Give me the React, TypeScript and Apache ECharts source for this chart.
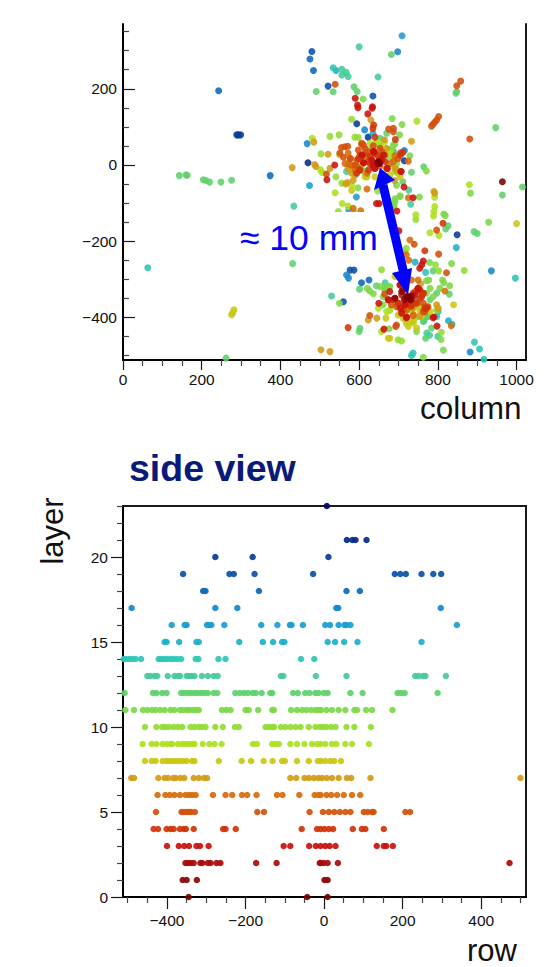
import React, { useEffect, useRef } from "react";
import * as echarts from "echarts";

const layerColors = ["#7a0000","#8c0404","#a80a0a","#c8120c","#cf3408","#d2500c","#d66c0c","#d19c14","#c9c714","#aee01e","#92dc32","#7cd848","#5ed06c","#45c99a","#2cc5b5","#1cb0c8","#1a9dd0","#1488cc","#0d68b8","#0a50a8","#083a98","#062888","#041a78","#00005f"];

// side view: row values per layer
const side0 = [-345,-43,9];
const side1 = [-360,-350,-324,1,9];
const side2 = [-353,-347,-340,-332,-315,-310,-296,-289,-274,-264,-173,-121,-11,-9,-1,9,35,472];
const side3 = [-400,-370,-356,-344,-325,-316,-294,-103,-86,-38,-21,-9,3,14,29,134,152,158,175];
const side4 = [-434,-423,-401,-391,-383,-367,-357,-352,-332,-257,-251,-225,-57,-18,-9,1,12,23,73,96,105,152];
const side5 = [-428,-363,-357,-350,-344,-339,-329,-170,-153,-37,-3,12,26,40,54,67,101,111,122,126,207,219];
const side6 = [-424,-404,-393,-381,-367,-353,-344,-336,-327,-283,-251,-234,-209,-196,-172,-120,-106,-63,-24,-14,-9,6,18,33,50,71,92];
const side7 = [-491,-484,-422,-406,-397,-384,-378,-366,-356,-332,-319,-306,-298,-86,-71,-50,-39,-26,-14,-5,7,20,37,58,69,118,500];
const side8 = [-456,-439,-429,-411,-401,-393,-384,-376,-367,-359,-350,-336,-330,-268,-210,-186,-154,-131,-107,-100,-69,-39,-16,-8,3,16,26,43];
const side9 = [-462,-439,-427,-411,-400,-391,-387,-372,-361,-353,-344,-336,-330,-309,-292,-279,-261,-181,-171,-132,-124,-115,-86,-69,-50,-31,-18,-9,3,20,31,54,71,114];
const side10 = [-456,-427,-412,-404,-395,-383,-372,-361,-340,-330,-319,-311,-302,-277,-258,-227,-217,-149,-141,-132,-127,-110,-99,-86,-73,-60,-39,-22,-11,-3,6,18,29,57,77,119];
const side11 = [-506,-484,-461,-450,-438,-429,-417,-406,-391,-381,-367,-359,-350,-342,-333,-325,-319,-260,-249,-238,-200,-192,-168,-132,-128,-84,-69,-56,-45,-33,-22,-14,-8,6,20,37,54,77,84,107,122,174];
const side12 = [-508,-436,-427,-412,-401,-364,-356,-347,-339,-330,-322,-313,-305,-296,-281,-272,-226,-215,-204,-194,-182,-174,-159,-137,-132,-79,-67,-48,-37,-22,-14,-1,9,67,98,187,196,205,289];
const side13 = [-450,-442,-432,-425,-398,-381,-372,-367,-350,-344,-337,-330,-311,-296,-281,-271,-110,-104,-21,57,232,241,252,258,310];
const side14 = [-510,-506,-497,-489,-480,-466,-421,-415,-408,-400,-391,-383,-374,-364,-327,-320,-269,-251,-59,-25];
const side15 = [-406,-401,-369,-325,-319,-216,-156,-130,-107,-101,9,28,51,85,248];
const side16 = [-388,-355,-350,-298,-293,-287,-254,-160,-119,-87,-83,-54,3,15,37,52,57,67,338];
const side17 = [-490,-277,-221,31,36,297];
const side18 = [-308,-302,-166,57,91];
const side19 = [-359,-241,-230,-177,-28,180,194,208,248,278,298];
const side20 = [-277,-182,11];
const side21 = [58,72,80,108];
const side22: number[] = [];
const side23 = [7];
const sideLayers = [side0,side1,side2,side3,side4,side5,side6,side7,side8,side9,side10,side11,side12,side13,side14,side15,side16,side17,side18,side19,side20,side21,side22,side23];

// top view: [column, row] per layer
const top0 = [[964,-44],[725,-347],[649,6],[725,-347]];
const top1 = [[647,6],[649,4],[719,-350],[729,-354],[708,-332],[733,-344],[649,9],[652,4],[721,-345],[729,-350],[715,-354],[732,-354],[691,-350]];
const top2: number[][] = [];
const top3 = [[590,175],[596,157],[597,150],[634,153],[633,149],[622,134],[538,0],[518,-39],[714,-58],[737,-86],[638,35],[611,6],[640,-9],[649,9],[644,0],[636,-4],[644,-101],[651,-101],[696,-121],[701,-173],[763,-252],[759,-262],[754,-271],[798,-423],[663,-431],[704,-315],[712,-328],[691,-350],[678,-332],[674,-354],[650,-363],[750,-324],[720,-401],[788,-401],[708,-389],[705,-376],[636,0],[632,13],[657,13],[662,26],[608,26],[611,6],[636,35],[672,-9],[707,-17],[708,-341],[742,-341],[717,-367],[704,-315],[674,-354],[749,-325],[721,-399],[790,-399]];
const top4 = [[637,105],[635,96],[640,73],[692,67],[706,-17],[602,26],[598,17],[606,22],[627,4],[636,6],[653,17],[670,-9],[594,-22],[602,-13],[813,-153],[767,-225],[572,-427],[759,-346],[763,-337],[737,-337],[754,-328],[699,-363],[716,-367],[729,-367],[771,-376],[624,9],[628,22],[645,26],[666,9],[640,-9],[624,-13],[602,-13],[705,26],[711,33],[733,-371],[755,-350],[763,-337],[767,-376],[700,-363],[687,-354],[746,-363]];
const top5 = [[858,220],[848,208],[802,127],[797,118],[792,112],[788,107],[784,102],[881,68],[675,94],[687,96],[687,87],[539,212],[517,-24],[555,46],[564,48],[571,49],[560,20],[551,31],[606,55],[615,44],[623,35],[640,31],[657,35],[665,26],[699,17],[705,32],[797,-171],[740,-208],[802,-234],[822,-283],[627,-395],[693,-424],[665,-339],[682,-367],[695,-372],[763,-363],[767,-385],[775,-372],[594,13],[615,31],[598,39],[611,52],[636,50],[653,44],[577,17],[590,0],[772,-372],[763,-385],[755,-332],[712,-380],[695,-420],[742,-358]];
const top6 = [[620,-63],[725,10],[725,-86],[572,4],[578,17],[572,31],[581,0],[594,-4],[589,-13],[619,22],[632,13],[653,-4],[678,4],[691,24],[604,-120],[585,-114],[729,-197],[720,-236],[726,-250],[834,-422],[818,-331],[720,-381],[742,-332],[733,-302],[737,-396],[577,0],[620,-22],[607,57],[687,9],[564,4],[721,-380],[738,-393],[750,-302]];
const top7 = [[430,-7],[487,1],[490,-4],[521,28],[526,-9],[570,-46],[566,-50],[485,60],[733,62],[664,66],[630,118],[690,-41],[790,-70],[792,-74],[572,-9],[581,-22],[585,-40],[657,26],[691,-9],[695,-13],[687,9],[503,-485],[526,-490],[623,-407],[645,-402],[746,-363],[756,-312],[737,-376],[797,-367],[801,-376],[754,-398],[670,44],[590,-26]];
const top8 = [[581,-67],[589,-9],[602,0],[615,-31],[640,-31],[661,-26],[678,-26],[704,-31],[668,-402],[674,-455],[678,-455],[840,-367],[691,-293],[699,-394],[725,-424],[737,-411],[754,-381],[780,-385],[1000,-154],[282,-380],[279,-388],[276,-393],[750,-371],[755,-393],[717,-406],[733,-411],[746,-428]];
const top9 = [[481,70],[747,115],[502,-13],[506,-20],[550,27],[581,-54],[539,-73],[880,-52],[792,-85],[632,44],[644,57],[653,52],[665,61],[670,35],[687,13],[691,-17],[557,-101],[572,-108],[744,-131],[792,-109],[790,-122],[789,-134],[780,-178],[803,-185],[657,-437],[670,-385],[649,-376],[712,-403],[733,-381],[759,-396],[628,57],[645,61],[679,31],[691,4],[620,-31],[678,-380],[704,-389],[738,-415]];
const top10 = [[581,120],[589,73],[598,72],[526,75],[549,79],[503,29],[541,-31],[556,-48],[647,-68],[606,-9],[619,-17],[678,22],[682,39],[547,-122],[587,-125],[744,-143],[720,-219],[716,-227],[794,-262],[802,-278],[867,-277],[657,-275],[699,-459],[708,-462],[809,-439],[720,-416],[742,-402],[759,-372],[797,-381]];
const top11 = [[610,173],[684,122],[709,106],[703,79],[597,-60],[771,-16],[729,24],[695,-53],[704,-83],[691,-89],[753,-84],[883,-74],[611,-17],[619,-31],[687,52],[691,55],[695,4],[699,-22],[691,-96],[689,-105],[687,-114],[704,-81],[815,-129],[819,-133],[779,-256],[835,-259],[929,-150],[621,-324],[627,-331],[636,-338],[550,-363],[676,-430],[763,-505],[814,-486],[812,-302],[815,-309],[805,-324],[830,-317],[808,-458],[771,-304],[777,-302],[674,-319],[678,-319],[665,-328],[661,-346],[653,-319],[771,-337],[780,-324],[788,-346],[661,-367],[678,-381],[746,-437]];
const top12 = [[682,290],[491,193],[534,192],[587,205],[595,193],[848,193],[846,188],[947,98],[1015,-58],[964,-79],[764,-5],[733,-19],[711,-44],[653,70],[670,83],[143,-28],[160,-26],[163,-27],[204,-39],[211,-41],[220,-45],[249,-45],[276,-40],[262,-507],[431,-259],[826,-160],[820,-168],[892,-175],[900,-180],[788,-278],[601,-326],[644,-317],[602,-429],[600,-437],[784,-428],[769,-455],[829,-339],[665,-324],[780,-354],[797,-337],[763,-411],[771,-398]];
const top13 = [[600,310],[556,251],[567,243],[556,236],[572,232],[648,231],[726,-66],[568,-17],[691,-4],[434,-108],[731,-103],[530,-344],[772,-441],[779,-447],[800,-450],[666,-309],[775,-398]];
const top14 = [[534,255],[63,-270],[769,-282],[997,-297],[737,-494],[733,-500],[893,-465],[906,-483],[917,-510],[801,-385],[797,-398],[765,-409]];
const top15 = [[541,248],[635,83],[674,35],[687,35],[695,-17],[742,-255],[847,-217],[827,-409],[836,-418]];
const top16 = [[709,339],[474,-54],[593,-84],[653,50],[678,39],[574,-118]];
const top17 = [[698,297],[614,92],[468,56],[715,38],[568,-289],[573,-297],[936,-278],[882,-491]];
const top18 = [[475,278],[484,248],[243,195],[374,-28],[606,-309],[625,-302]];
const top19 = [[480,298],[521,207],[635,181],[577,-276],[587,-276],[560,-359]];
const top20 = [[594,108],[623,73],[715,11],[289,79],[293,79],[299,79],[849,-183]];
const top21 = [[470,6]];
const topLayers = [top0,top1,top2,top3,top4,top5,top6,top7,top8,top9,top10,top11,top12,top13,top14,top15,top16,top17,top18,top19,top20,top21];

const topXMajor = [0,200,400,600,800,1000];
const topXMinor = [50,100,150,250,300,350,450,500,550,650,700,750,850,900,950];
const topYMajor = [-400,-200,0,200];
const topYMinor = [-500,-450,-350,-300,-250,-150,-100,-50,50,100,150,250,300,350];
const sideXMajor = [-400,-200,0,200,400];
const sideXMinor = [-500,-450,-350,-300,-250,-150,-100,-50,50,100,150,250,300,350,450,500];
const sideYMajor = [0,5,10,15,20];
const sideYMinor = [1,2,3,4,6,7,8,9,11,12,13,14,16,17,18,19,21,22,23];

const ink = "#1a1a1a";
const tickInk = "#444444";
const fmt = (v: number) => String(v).replace("-", "\u2212");

function axis(base: any, major: boolean, values: number[], len: number, inside: boolean, margin: number) {
  return {
    ...base,
    type: "value",
    scale: false,
    splitLine: { show: false },
    axisLine: { show: major, onZero: false, lineStyle: { color: "#000000", width: 2 } },
    axisTick: { show: true, inside, length: len, customValues: values, lineStyle: { color: major ? ink : tickInk, width: 1.2 } },
    axisLabel: major
      ? { show: true, customValues: values, margin, fontFamily: "Liberation Sans", fontSize: 15.5, color: "#111111", formatter: fmt, hideOverlap: false }
      : { show: false },
  };
}

export default function App() {
  const ref = useRef<HTMLDivElement>(null);
  useEffect(() => {
    const chart = echarts.init(ref.current!, undefined, { renderer: "svg" });
    const series: any[] = [];
    for (let i = topLayers.length - 1; i >= 0; i--) {
      series.push({
        type: "scatter", xAxisIndex: 0, yAxisIndex: 0, symbolSize: 7, clip: true, z: 2,
        itemStyle: { color: layerColors[i], opacity: 0.88 },
        data: topLayers[i],
      });
    }
    for (let i = sideLayers.length - 1; i >= 0; i--) {
      series.push({
        type: "scatter", xAxisIndex: 2, yAxisIndex: 3, symbolSize: 6.5, clip: false, z: 2,
        itemStyle: { color: layerColors[i], opacity: 0.92 },
        data: sideLayers[i].map((r) => [r, i]),
      });
    }
    const topX = { gridIndex: 0, min: 0, max: 1024, position: "bottom" };
    const topY = { gridIndex: 0, min: -512, max: 370, position: "left" };
    const sideX = { gridIndex: 1, min: -512, max: 514, position: "bottom" };
    const sideY = { gridIndex: 1, min: 0, max: 23, position: "left" };
    chart.setOption({
      animation: false,
      backgroundColor: "#ffffff",
      grid: [
        { left: 123, top: 24, width: 403, height: 336 },
        { left: 123, top: 506, width: 403, height: 391, show: true, borderColor: ink, borderWidth: 2, backgroundColor: "transparent" },
      ],
      xAxis: [
        axis(topX, true, topXMajor, 10, false, 11),
        axis(topX, false, topXMinor, 6, false, 11),
        axis(sideX, true, sideXMajor, 12, false, 15),
        axis(sideX, false, sideXMinor, 6, false, 15),
      ],
      yAxis: [
        axis(topY, true, topYMajor, 12, true, 6),
        axis(topY, false, topYMinor, 6, true, 6),
        { type: "value", gridIndex: 0, min: -512, max: 370, position: "right", splitLine: { show: false }, axisTick: { show: false }, axisLabel: { show: false }, axisLine: { show: true, onZero: false, lineStyle: { color: ink, width: 2 } } },
        axis(sideY, true, sideYMajor, 12, false, 15),
        axis(sideY, false, sideYMinor, 6, false, 15),
      ],
      series,
      graphic: [
        { type: "rect", z: 50, shape: { x: 238, y: 212, width: 146, height: 46 }, style: { fill: "#ffffff" } },
        { type: "line", z: 51, shape: { x1: 383, y1: 185, x2: 404, y2: 274 }, style: { stroke: "#0000ff", lineWidth: 9 } },
        { type: "polygon", z: 52, shape: { points: [[380, 168], [374, 190], [395, 180]] }, style: { fill: "#0000ff" } },
        { type: "polygon", z: 52, shape: { points: [[408, 295], [392, 273], [412, 268]] }, style: { fill: "#0000ff" } },
        { type: "text", z: 53, x: 240, y: 238, style: { text: "\u2248 10 mm", fill: "#0000ff", font: "35.5px 'Liberation Sans'", verticalAlign: "middle", align: "left" } },
        { type: "text", z: 53, x: 420, y: 408, style: { text: "column", fill: "#111111", font: "31.5px 'Liberation Sans'", verticalAlign: "middle", align: "left" } },
        { type: "text", z: 53, x: 129, y: 468, style: { text: "side view", fill: "#0a1a78", font: "bold 37.5px 'Liberation Sans'", verticalAlign: "middle", align: "left" } },
        { type: "text", z: 53, x: 52, y: 531, rotation: Math.PI / 2, style: { text: "layer", fill: "#111111", font: "31px 'Liberation Sans'", verticalAlign: "middle", align: "center" } },
        { type: "text", z: 53, x: 467, y: 950, style: { text: "row", fill: "#111111", font: "31px 'Liberation Sans'", verticalAlign: "middle", align: "left" } },
      ],
    });
    return () => chart.dispose();
  }, []);
  return <div ref={ref} style={{ position: "absolute", left: 0, top: 0, width: 549, height: 967 }} />;
}
